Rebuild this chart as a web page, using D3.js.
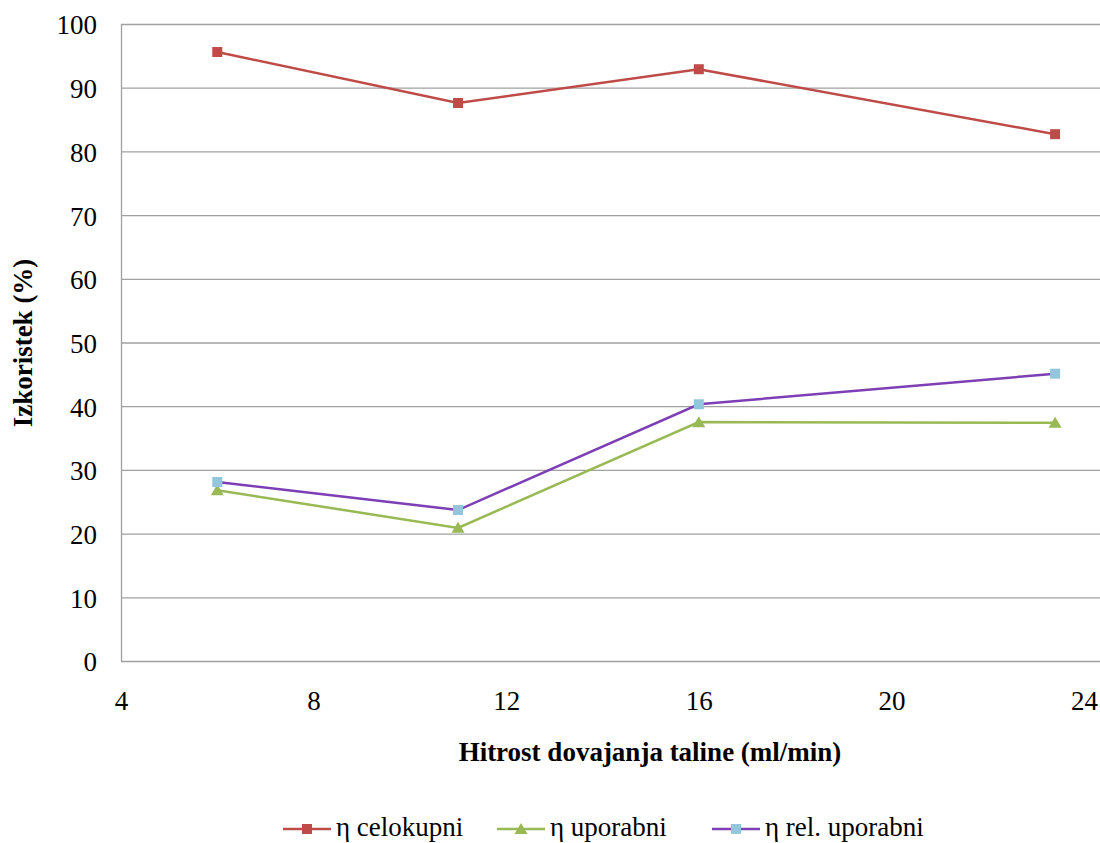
<!DOCTYPE html>
<html><head><meta charset="utf-8">
<script src="https://cdn.jsdelivr.net/npm/d3@7"></script>
<style>body{margin:0;background:#fff}svg{display:block}svg text{font-family:"Liberation Serif",Tinos,"Times New Roman",Times,serif !important;fill:#000}</style>
</head><body><svg id="c" width="1100" height="843"></svg>
<script>
const xValues = [6, 11, 16, 23.4];
const celokupni = [95.6, 87.6, 92.9, 82.7];
const uporabni = [26.8, 20.9, 37.5, 37.4];
const relUporabni = [28.1, 23.7, 40.3, 45.1];
const seriesNames = ["η celokupni", "η uporabni", "η rel. uporabni"];
const xTicks = [4, 8, 12, 16, 20, 24];
const yTicks = [0, 10, 20, 30, 40, 50, 60, 70, 80, 90, 100];

const svg = d3.select("#c");
const x = d3.scaleLinear().domain([4, 24]).range([121, 1084]);
const y = d3.scaleLinear().domain([0, 100]).range([661, 24]);
const FS = 27;

svg.append("g").selectAll("line").data(yTicks).join("line")
  .attr("x1", 121).attr("x2", 1100)
  .attr("y1", d => y(d)+0.5).attr("y2", d => y(d)+0.5)
  .attr("stroke", "#a0a0a0").attr("stroke-width", 1.3);
svg.append("line").attr("x1", 121.5).attr("x2", 121.5).attr("y1", y(100)).attr("y2", y(0))
  .attr("stroke", "#a0a0a0").attr("stroke-width", 1.3);

const yAxis = d3.axisLeft(y).tickValues(yTicks).tickSize(0).tickPadding(24);
const gy = svg.append("g").attr("transform", "translate(121,0.5)").call(yAxis).attr("font-family", null);
gy.select(".domain").remove();
gy.selectAll("text").attr("font-size", FS).attr("dy", "0.35em");

const xAxis = d3.axisBottom(x).tickValues(xTicks).tickSize(0).tickPadding(30);
const gx = svg.append("g").attr("transform", "translate(0,661)").call(xAxis).attr("font-family", null);
gx.select(".domain").remove();
gx.selectAll("text").attr("font-size", FS).attr("dy", "0.71em");

svg.append("text").attr("x", 650).attr("y", 761).attr("text-anchor", "middle")
  .attr("font-size", FS).attr("font-weight", "bold").text("Hitrost dovajanja taline (ml/min)");
svg.append("text").attr("transform", "translate(32,343) rotate(-90)").attr("text-anchor", "middle")
  .attr("font-size", FS).attr("font-weight", "bold").text("Izkoristek (%)");

const colors = ["#be4b48", "#98b954", "#7d3fb5"];
const markerFill = ["#be4b48", "#98b954", "#93c6dc"];
const markerType = ["square", "triangle", "square"];
const data = [celokupni, uporabni, relUporabni];

const line = d3.line().x(d => x(d[0])).y(d => y(d[1]));

function marker(g, type, cx, cy, fill) {
  if (type === "square") {
    g.append("rect").attr("x", cx-5).attr("y", cy-5).attr("width", 10).attr("height", 10).attr("fill", fill);
  } else {
    g.append("path").attr("d", `M${cx},${cy-6}L${cx+6.5},${cy+5}L${cx-6.5},${cy+5}Z`).attr("fill", fill);
  }
}

data.forEach((vals, i) => {
  const pts = xValues.map((xv, j) => [xv, vals[j]]);
  svg.append("path").attr("d", line(pts)).attr("fill", "none")
    .attr("stroke", colors[i]).attr("stroke-width", 2.5);
  const g = svg.append("g");
  pts.forEach(p => marker(g, markerType[i], x(p[0]), y(p[1]), markerFill[i]));
});

const legX = [283, 497, 712];
const legY = 829;
seriesNames.forEach((name, i) => {
  const g = svg.append("g");
  g.append("line").attr("x1", legX[i]).attr("x2", legX[i]+48).attr("y1", legY).attr("y2", legY)
    .attr("stroke", colors[i]).attr("stroke-width", 2.5);
  marker(g, markerType[i], legX[i]+24, legY, markerFill[i]);
  g.append("text").attr("x", legX[i]+53).attr("y", 836).attr("font-size", FS).text(name);
});
</script></body></html>
